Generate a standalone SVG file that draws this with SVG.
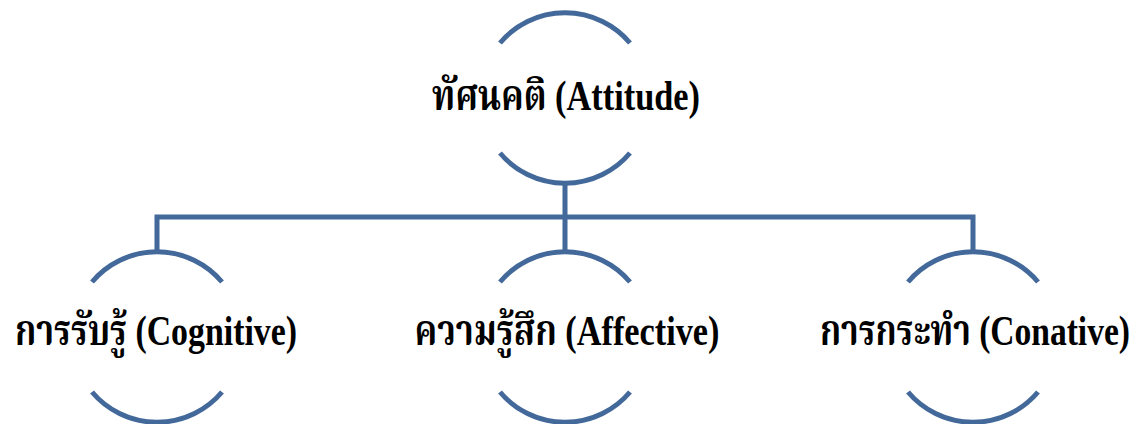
<svg xmlns="http://www.w3.org/2000/svg" width="1143" height="424" viewBox="0 0 1143 424">
<style>
.arc{fill:none;stroke:#43699b;stroke-width:5}
.conn{fill:none;stroke:#43699b;stroke-width:5;stroke-linejoin:miter}
.lbl{font-family:"Liberation Serif","Noto Serif Thai","Noto Sans Thai",Loma,Garuda,"DejaVu Sans",serif;font-weight:bold;font-size:42px;fill:#000;text-anchor:middle}
</style>
<rect width="1143" height="424" fill="#fff"/>
<g id="connectors">
<path class="conn" d="M565,183 V217 M157,252 V217 H973 V252 M565,217 V252"/>
</g>
<g id="node-attitude">
<path class="arc" d="M500,43 A85,85 0 0 1 630,43"/>
<path class="arc" d="M500,153 A85,85 0 0 0 630,153"/>
<text class="lbl" x="566" y="110" textLength="268" lengthAdjust="spacingAndGlyphs">ทัศนคติ (Attitude)</text>
</g>
<g id="node-cognitive">
<path class="arc" d="M92,282 A85,85 0 0 1 222,282"/>
<path class="arc" d="M92,392 A85,85 0 0 0 222,392"/>
<text class="lbl" x="156" y="345" textLength="282" lengthAdjust="spacingAndGlyphs">การรับรู้ (Cognitive)</text>
</g>
<g id="node-affective">
<path class="arc" d="M500,282 A85,85 0 0 1 630,282"/>
<path class="arc" d="M500,392 A85,85 0 0 0 630,392"/>
<text class="lbl" x="567" y="345" textLength="305" lengthAdjust="spacingAndGlyphs">ความรู้สึก (Affective)</text>
</g>
<g id="node-conative">
<path class="arc" d="M908,282 A85,85 0 0 1 1038,282"/>
<path class="arc" d="M908,392 A85,85 0 0 0 1038,392"/>
<text class="lbl" x="975" y="345" textLength="310" lengthAdjust="spacingAndGlyphs">การกระทำ (Conative)</text>
</g>
</svg>
